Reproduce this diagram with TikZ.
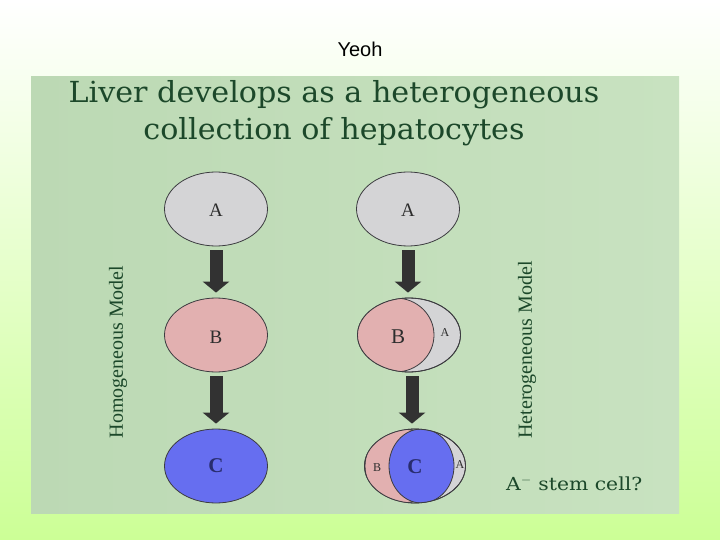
\documentclass[tikz,border=0pt]{standalone}
\usepackage{fontspec}
\setmainfont{Liberation Serif}
\newfontfamily\slidesans{Liberation Sans}
\newfontfamily\widserif{DejaVu Serif}
\usetikzlibrary{shapes.geometric,arrows.meta}
\definecolor{slidegreen}{RGB}{204,255,150}
\definecolor{panelleft}{RGB}{188,217,180}
\definecolor{panelright}{RGB}{200,226,192}
\definecolor{titlegreen}{RGB}{28,72,42}
\definecolor{cellline}{RGB}{60,60,64}
\definecolor{cellgray}{RGB}{212,212,214}
\definecolor{cellpink}{RGB}{226,176,176}
\definecolor{cellblue}{RGB}{102,110,240}
\definecolor{arrowgray}{RGB}{50,50,50}
\definecolor{labelgray}{RGB}{45,45,45}
\definecolor{labelblue}{RGB}{40,44,110}

\begin{document}
\begin{tikzpicture}[x=1pt,y=-1pt]
\tikzstyle{every node}+=[inner sep=0pt]
\tikzstyle{cell}=[ellipse, draw=cellline, line width=0.8pt, minimum width=103pt, minimum height=74pt]
\tikzstyle{growarrow}=[draw=arrowgray, line width=13pt, -{Triangle[width=26pt,length=11pt]}, shorten <=4pt, shorten >=5pt]
\tikzstyle{model}=[rotate=90, text=titlegreen, font=\fontsize{20}{24}\selectfont]
\tikzstyle{cellsmall}=[text=labelgray, font=\fontsize{19}{22}\selectfont]
\tikzstyle{celltiny}=[text=labelgray, font=\fontsize{12}{14}\selectfont]
\tikzstyle{cellbig}=[text=labelgray, font=\fontsize{21}{24}\selectfont]
\tikzstyle{headline}=[anchor=base, text=titlegreen, font=\widserif\fontsize{29}{34}\selectfont]
\useasboundingbox (0,0) rectangle (720,540);
% slide and picture panel
\shade[top color=white, bottom color=slidegreen] (0,0) rectangle (720,540);
\shade[left color=panelleft, right color=panelright] (31,77) rectangle (679,513);
\node[anchor=base, font=\slidesans\fontsize{20}{24}\selectfont] (yeoh) at (360,57) {Yeoh};
\node[headline] (title1) at (334,103) {\scalebox{1.04}[1]{Liver develops as a heterogeneous}};
\node[headline] (title2) at (334,140) {\scalebox{1.04}[1]{collection of hepatocytes}};
\node[model] (homo) at (118,352) {Homogeneous Model};
\node[model] (hetero) at (527,350) {Heterogeneous Model};
% homogeneous column
\node[cell, fill=cellgray] (A1) at (216,209) {};
\node[cellsmall] at (216,210) {A};
\node[cell, fill=cellpink] (B1) at (216,335) {};
\node[cellsmall] at (216,337) {B};
\node[cell, fill=cellblue] (C1) at (216,466) {};
\node[cellbig, text=labelblue] at (C1) {\textbf{C}};
\draw[growarrow] (A1) -- (B1);
\draw[growarrow] (B1) -- (C1);
% heterogeneous column
\node[cell, fill=cellgray] (A2) at (408,209) {};
\node[cellsmall] at (408,210) {A};
\node[cell, fill=cellgray] (B2) at (409,335) {};
\begin{scope}
\clip (409,335) ellipse [x radius=51.5, y radius=37];
\fill[cellpink, draw=cellline, line width=0.8pt] (395.5,335) ellipse [x radius=38.5, y radius=37];
\end{scope}
\draw[cellline, line width=0.8pt] (409,335) ellipse [x radius=51.5, y radius=37];
\node[cellbig] (Bb) at (398,337) {B};
\node[celltiny] (Ab) at (445,333) {A};
\node[cell, fill=cellgray, minimum width=101pt] (C2) at (415,466) {};
\begin{scope}
\clip (415,466) ellipse [x radius=50.5, y radius=37];
\fill[cellpink, draw=cellline, line width=0.8pt] (402,466) ellipse [x radius=37, y radius=37];
\fill[cellblue, draw=cellline, line width=0.8pt] (421.5,466) ellipse [x radius=32.5, y radius=37];
\end{scope}
\draw[cellline, line width=0.8pt] (415,466) ellipse [x radius=50.5, y radius=37];
\node[celltiny] (Bc) at (377,468) {B};
\node[cellbig, text=labelblue] (Cc) at (415,467) {\textbf{C}};
\node[celltiny] (Ac) at (460,465) {A};
\draw[growarrow] (A2.south) -- (A2.south |- B2.north);
\draw[growarrow] (B2.south -| 412,0) -- (412,0 |- C2.north);
\node[anchor=base west, text=titlegreen, font=\widserif\fontsize{18}{21}\selectfont] (stem) at (506,490) {\scalebox{1.13}[1]{A$^{-}$ stem cell?}};
\end{tikzpicture}
\end{document}
